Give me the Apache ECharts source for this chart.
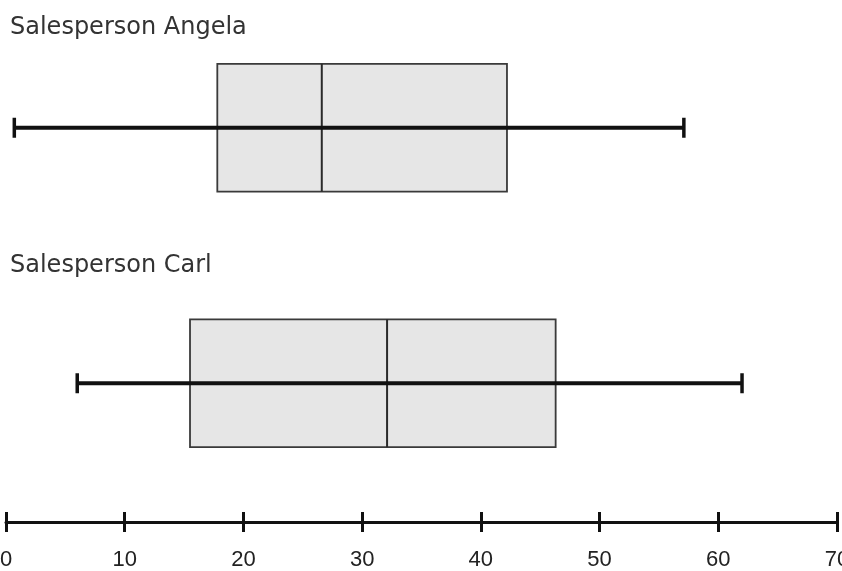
<!DOCTYPE html>
<html>
<head>
<meta charset="utf-8">
<script src="https://cdn.jsdelivr.net/npm/echarts@6/dist/echarts.min.js"></script>
<style>html,body{margin:0;padding:0;background:#fff}#c{width:842px;height:571px}</style>
</head>
<body>
<div id="c"></div>
<script>
const categories = ['Salesperson Angela', 'Salesperson Carl'];
const mins    = [0.7, 6.0];
const q1s     = [17.8, 15.5];
const medians = [26.6, 32.1];
const q3s     = [42.2, 46.3];
const maxs    = [57.1, 62.0];
const tickMin = 0, tickMax = 70, tickStep = 10;

const data = categories.map((c, i) => [i, mins[i], q1s[i], medians[i], q3s[i], maxs[i]]);

const chart = echarts.init(document.getElementById('c'), null, {renderer: 'canvas'});

function renderItem(params, api) {
  const y = api.value(0);
  const pMin = api.coord([api.value(1), y]);
  const pQ1 = api.coord([api.value(2), y]);
  const pMed = api.coord([api.value(3), y]);
  const pQ3 = api.coord([api.value(4), y]);
  const pMax = api.coord([api.value(5), y]);
  const band = api.size([0, 1])[1];
  const bh = band * 0.5;
  const cy = pMin[1];
  const cap = 10;
  return {
    type: 'group',
    children: [
      {type: 'rect', shape: {x: pQ1[0], y: cy - bh / 2, width: pQ3[0] - pQ1[0], height: bh},
       style: {fill: '#e6e6e6', stroke: '#3a3a3a', lineWidth: 1.8}},
      {type: 'line', shape: {x1: pMed[0], y1: cy - bh / 2, x2: pMed[0], y2: cy + bh / 2},
       style: {stroke: '#2a2a2a', lineWidth: 2}},
      {type: 'line', shape: {x1: pMin[0], y1: cy, x2: pMax[0], y2: cy},
       style: {stroke: '#111', lineWidth: 4}},
      {type: 'line', shape: {x1: pMin[0], y1: cy - cap, x2: pMin[0], y2: cy + cap},
       style: {stroke: '#111', lineWidth: 3.5}},
      {type: 'line', shape: {x1: pMax[0], y1: cy - cap, x2: pMax[0], y2: cy + cap},
       style: {stroke: '#111', lineWidth: 3.5}}
    ]
  };
}

const titleStyle = {fontFamily: 'DejaVu Sans', fontSize: 24, fontWeight: 'normal', color: '#333'};

chart.setOption({
  animation: false,
  title: [
    {text: categories[0], left: 10, top: 16, padding: 0, textStyle: titleStyle},
    {text: categories[1], left: 10, top: 254, padding: 0, textStyle: titleStyle}
  ],
  grid: {left: 6, right: 5, top: 0, bottom: 60, containLabel: false, outerBoundsMode: 'none'},
  xAxis: [
    {type: 'value', position: 'bottom', offset: 11, min: tickMin, max: tickMax, interval: tickStep,
     splitLine: {show: false},
     axisLine: {show: true, lineStyle: {color: '#111', width: 3}},
     axisTick: {show: true, inside: false, length: 10, lineStyle: {color: '#111', width: 3}},
     axisLabel: {show: true, margin: 27, fontFamily: 'Liberation Sans', fontSize: 22, color: '#222'}},
    {type: 'value', position: 'bottom', offset: 11, min: tickMin, max: tickMax, interval: tickStep,
     splitLine: {show: false},
     axisLine: {show: false},
     axisTick: {show: true, inside: true, length: 10, lineStyle: {color: '#111', width: 3}},
     axisLabel: {show: false}}
  ],
  yAxis: {type: 'category', data: categories, inverse: true, show: false},
  series: [{
    type: 'custom',
    xAxisIndex: 0,
    renderItem: renderItem,
    encode: {x: [1, 2, 3, 4, 5], y: 0},
    data: data
  }]
});
</script>
</body>
</html>
